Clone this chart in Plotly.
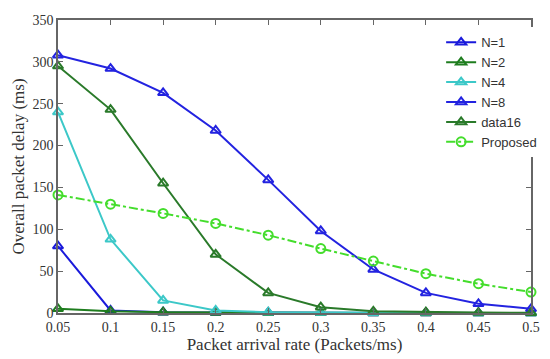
import plotly.graph_objects as go

x_rate = [0.05, 0.1, 0.15, 0.2, 0.25, 0.3, 0.35, 0.4, 0.45, 0.5]
n1 = [80, 3, 1, 0.5, 0.3, 0.2, 0.1, 0.1, 0.1, 0.1]
n2 = [5, 2, 1, 0.5, 0.3, 0.2, 0.1, 0.1, 0.1, 0.1]
n4 = [240, 88, 15, 3, 1, 0.5, 0.3, 0.2, 0.1, 0.1]
n8 = [308, 292, 263, 218, 159, 98, 52, 24, 11, 5]
data16 = [295, 243, 155, 70, 24, 7, 2, 1, 0.5, 0.3]
proposed = [141, 130, 119, 107, 93, 77, 62, 47, 35, 25]

x_ticks = [0.05, 0.1, 0.15, 0.2, 0.25, 0.3, 0.35, 0.4, 0.45, 0.5]
x_ticktext = ["0.05", "0.1", "0.15", "0.2", "0.25", "0.3", "0.35", "0.4", "0.45", "0.5"]
y_ticks = [0, 50, 100, 150, 200, 250, 300, 350]

series = [
    ("N=1", n1, "#1a1adb", "solid", "triangle-up-open"),
    ("N=2", n2, "#1e7d1e", "solid", "triangle-up-open"),
    ("N=4", n4, "#3cc8c8", "solid", "triangle-up-open"),
    ("N=8", n8, "#2323e0", "solid", "triangle-up-open"),
    ("data16", data16, "#2a7a2a", "solid", "triangle-up-open"),
    ("Proposed", proposed, "#44dd2c", "dashdot", "circle-open"),
]

fig = go.Figure()
for name, ys, color, dash, sym in series:
    fig.add_trace(go.Scatter(
        x=x_rate, y=ys, name=name, mode="lines+markers",
        line=dict(color=color, width=2, dash=dash),
        marker=dict(symbol=sym, size=9, color=color, line=dict(width=2, color=color)),
        cliponaxis=False,
    ))

axis_common = dict(
    showgrid=False, zeroline=False, showline=True, linecolor="#666666", linewidth=1.5,
    mirror="ticks", ticks="inside", ticklen=5, tickcolor="#666666",
    tickfont=dict(family="Liberation Serif", size=14, color="#333333"),
)

fig.update_layout(
    width=550, height=359,
    margin=dict(l=58, r=8, t=20, b=46),
    paper_bgcolor="white", plot_bgcolor="white",
    xaxis=dict(range=[0.05, 0.5], tickvals=x_ticks, ticktext=x_ticktext,
               title=dict(text="Packet arrival rate (Packets/ms)", standoff=0,
                          font=dict(family="Liberation Serif", size=17, color="#333333")),
               **axis_common),
    yaxis=dict(range=[0, 350], tickvals=y_ticks,
               title=dict(text="Overall packet delay (ms)", standoff=4,
                          font=dict(family="Liberation Serif", size=17, color="#333333")),
               **axis_common),
    legend=dict(x=0.81, y=0.975, xanchor="left", yanchor="top",
                bgcolor="rgba(255,255,255,1)", borderwidth=0,
                font=dict(family="Liberation Sans Narrow, Liberation Sans", size=13, color="#333333"),
                tracegroupgap=0, itemwidth=30),
    showlegend=True,
)

fig.write_html("out.html", config={"displayModeBar": False},
               post_script="document.body.style.margin='0';document.body.style.padding='0';")
